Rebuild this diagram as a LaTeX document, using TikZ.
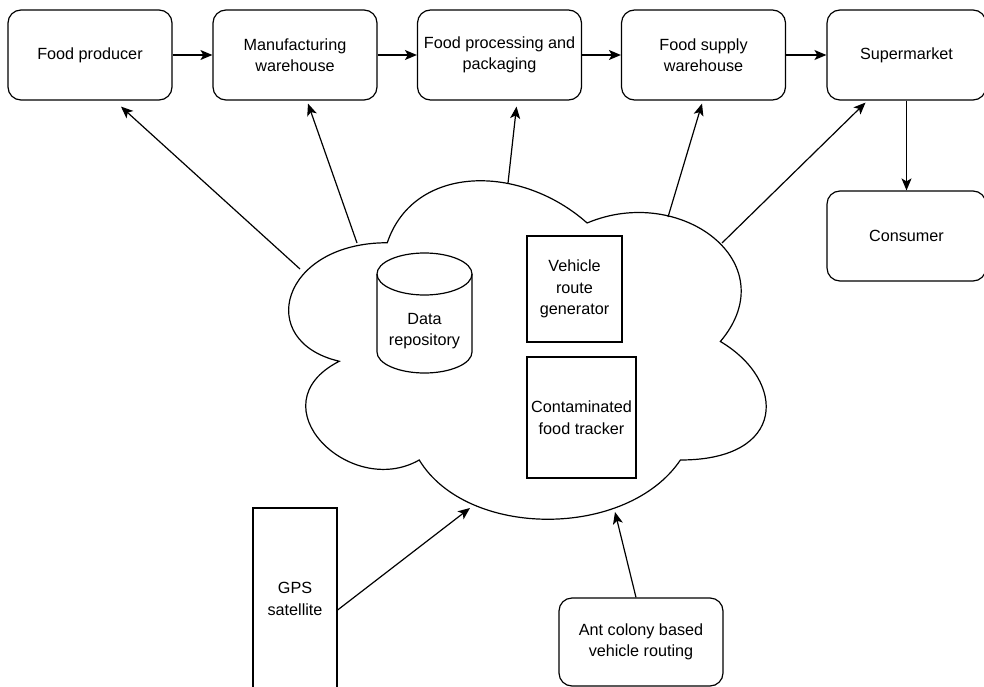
\documentclass[tikz,border=0pt]{standalone}
\usepackage{fontspec}
\setmainfont{Liberation Sans}
\usetikzlibrary{arrows.meta}
\tikzstyle{box} = [draw, rounded corners=13pt, minimum width=164pt, minimum height=90pt, align=center, inner sep=0pt]
\tikzstyle{block} = [draw, align=center, inner sep=0pt]
\tikzstyle{link} = [-{Stealth[length=12pt, width=10pt, inset=3pt]}]

\begin{document}
\begin{tikzpicture}[x=1pt, y=-1pt, line width=1.2pt, font=\fontsize{16.2}{21.5}\selectfont]
    \useasboundingbox (0,0) rectangle (984,687);

    \foreach \n/\x/\txt in {prod/90/{Food producer}, manu/295/{Manufacturing\\warehouse}, proc/499.5/{Food processing and\\packaging}, supply/703.5/{Food supply\\warehouse}}
    \node[box] (\n) at (\x, 55) {\txt};
    \node[box, minimum width=159pt] (super) at (906.5, 55) {Supermarket};
    \node[box, minimum width=159pt] (cons) at (906.5, 236) {Consumer};
    \foreach \f/\t in {prod/manu, manu/proc, proc/supply, supply/super, super/cons}
    \draw[link] (\f) -- (\t);

    \begin{scope}[shift={(254,144)}, xscale=533, yscale=395]
        \draw (0.25,0.25) .. controls (0.05,0.25) and (0,0.5) .. (0.16,0.55)
            .. controls (0,0.66) and (0.18,0.9) .. (0.31,0.8)
            .. controls (0.4,1) and (0.7,1) .. (0.8,0.8)
            .. controls (1,0.8) and (1,0.6) .. (0.875,0.5)
            .. controls (1,0.3) and (0.8,0.1) .. (0.625,0.2)
            .. controls (0.5,0.05) and (0.3,0.05) .. (0.25,0.25) -- cycle;
    \end{scope}
    \foreach \n/\x/\y in {c1/300/269, c2/357/243, c3/508/183, c4/668/217, c5/722/243, c6/470/508, c7/615/512}
    \coordinate (\n) at (\x, \y);

    \draw (377,274) -- (377,352) arc[start angle=180, end angle=360, x radius=47.5pt, y radius=21pt] -- (472,274);
    \draw (424.5,274) ellipse [x radius=47.5pt, y radius=21pt];
    \node[align=center] (repo) at (424.5, 331) {Data\\repository};
    \node[block, minimum width=95pt, minimum height=106pt] (route) at (574.5, 289) {Vehicle\\route\\generator};
    \node[block, minimum width=109pt, minimum height=121pt] (track) at (581.5, 417.5) {Contaminated\\food tracker};

    \node[block, minimum width=84pt, minimum height=182pt] (gps) at (295, 599) {GPS\\satellite};
    \node[box, minimum height=88pt] (ant) at (641, 642) {Ant colony based\\vehicle routing};

    \foreach \f/\t/\dx/\dy in {c1/prod/31/6, c2/manu/13/3, c3/proc/17/6, c4/supply/-1.5/3, c5/super/-41/2}
    \draw[link] (\f) -- ([shift={(\dx,\dy)}]\t.south);
    \draw[link] ([shift={(0,11)}]gps.east) -- (c6);
    \draw[link] ([shift={(-5,0)}]ant.north) -- (c7);
\end{tikzpicture}
\end{document}
